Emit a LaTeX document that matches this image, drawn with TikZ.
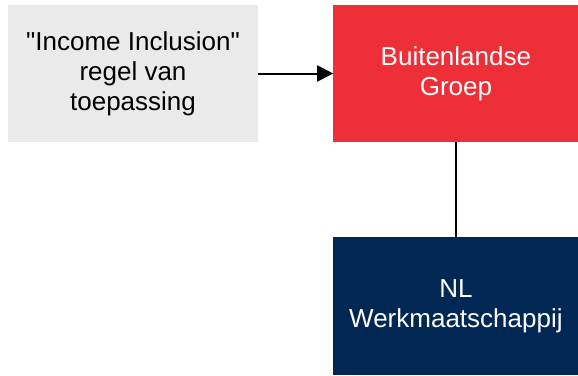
\documentclass[tikz,border=0pt]{standalone}
\usepackage{fontspec}
\setmainfont{Liberation Sans}[Ligatures=TeXOff]
\usepackage{xcolor}
\definecolor{rulegray}{RGB}{233,234,233}
\definecolor{groupred}{RGB}{238,47,55}
\definecolor{nlnavy}{RGB}{1,40,84}
\usetikzlibrary{
  arrows.meta,
  positioning
}
\tikzset{
  rulebox/.style={fill=rulegray, text=black,
    minimum width=250pt, minimum height=137pt,
    align=center, font=\fontsize{26pt}{30pt}\selectfont},
  groupbox/.style={fill=groupred, text=white,
    minimum width=245pt, minimum height=137pt,
    align=center, font=\fontsize{26pt}{30pt}\selectfont},
  subbox/.style={fill=nlnavy, text=white,
    minimum width=245pt, minimum height=138pt,
    align=center, font=\fontsize{26pt}{30pt}\selectfont},
  arr/.style={-{Triangle[length=16pt, width=16pt]}, line width=2pt},
  link/.style={line width=2pt},
}

\begin{document}
\begin{tikzpicture}[
  x=1pt, y=-1pt,
  node distance=75pt and 75pt
]
  \useasboundingbox (0,0) rectangle (578,375);

  % Left: the rule
  \node[rulebox] (rule) at (133,73.5)
    {"Income Inclusion"\\regel van\\toepassing};

  % Right: foreign group
  \node[groupbox, right=75pt of rule] (group)
    {Buitenlandse\\Groep};

  % Below: Dutch subsidiary
  \node[subbox, below=95pt of group] (nlsub)
    {NL\\Werkmaatschappij};

  % Connectors
  \draw[arr] (rule) -- (group);
  \draw[link] (group) -- (nlsub);
\end{tikzpicture}
\end{document}
